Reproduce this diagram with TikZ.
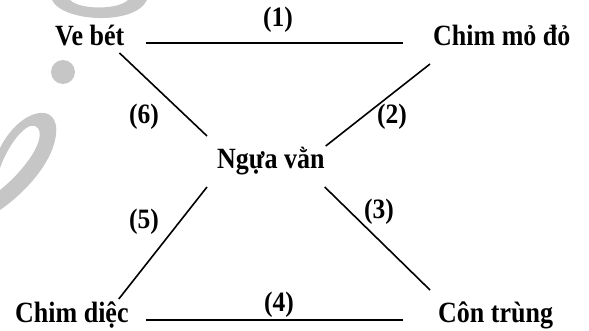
\documentclass[tikz,border=0pt]{standalone}
\usepackage{fontspec}
\setmainfont{Liberation Serif}

\begin{document}
\begin{tikzpicture}[x=1pt,y=-1pt,
    animal/.style={font=\fontsize{26}{26}\selectfont\bfseries, inner sep=0pt, anchor=base west,
      yscale=1.13, transform shape},
    num/.style={font=\fontsize{25.5}{25.5}\selectfont\bfseries, inner sep=0pt,
      yscale=1.1, transform shape},
    link/.style={line width=1.6pt}]
    \useasboundingbox (0,0) rectangle (589,331);
    % faint mark in the corner
    \fill[gray!45] (52,0) .. controls (62,22) and (135,26) .. (147,0) -- (128,0)
      .. controls (118,10) and (80,10) .. (70,0) -- cycle;
    \fill[gray!45] (63,72) circle (12);
    \fill[gray!45] (0,148) .. controls (20,108) and (60,100) .. (56,135)
      .. controls (52,165) and (22,195) .. (0,210) -- (0,190)
      .. controls (25,170) and (46,140) .. (38,128)
      .. controls (30,118) and (10,140) .. (0,168) -- cycle;
    % the animals
    \node[animal] (vebet) at (55,46) {Ve bét};
    \node[animal] (chimmodo) at (433,46) {Chim mỏ đỏ};
    \node[animal] (nguavan) at (217,169) {Ngựa vằn};
    \node[animal] (chimdiec) at (15,322) {Chim diệc};
    \node[animal] (contrung) at (438,322) {Côn trùng};
    % links
    \draw[link] ([shift={(22,-3)}]vebet.base east) -- ([shift={(-30,-3)}]chimmodo.base west);
    \draw[link] ([shift={(1,-23)}]nguavan.base east) -- ([shift={(-3,18)}]chimmodo.base west);
    \draw[link] ([shift={(0,18)}]nguavan.base east) -- ([shift={(-8,-32)}]contrung.base west);
    \draw[link] ([shift={(17,-2)}]chimdiec.base east) -- ([shift={(-35,-2)}]contrung.base west);
    \draw[link] ([shift={(-10,18)}]nguavan.base west) -- ([shift={(-10,-23)}]chimdiec.base east);
    \draw[link] ([shift={(-5,7)}]vebet.base east) -- ([shift={(-10,-33)}]nguavan.base west);
    \node[num] (n1) at (278,20) {(1)};
    \node[num] (n2) at (392,117) {(2)};
    \node[num] (n3) at (379,212) {(3)};
    \node[num] (n4) at (279,305) {(4)};
    \node[num] (n5) at (144,222) {(5)};
    \node[num] (n6) at (144,117) {(6)};
\end{tikzpicture}
\end{document}
